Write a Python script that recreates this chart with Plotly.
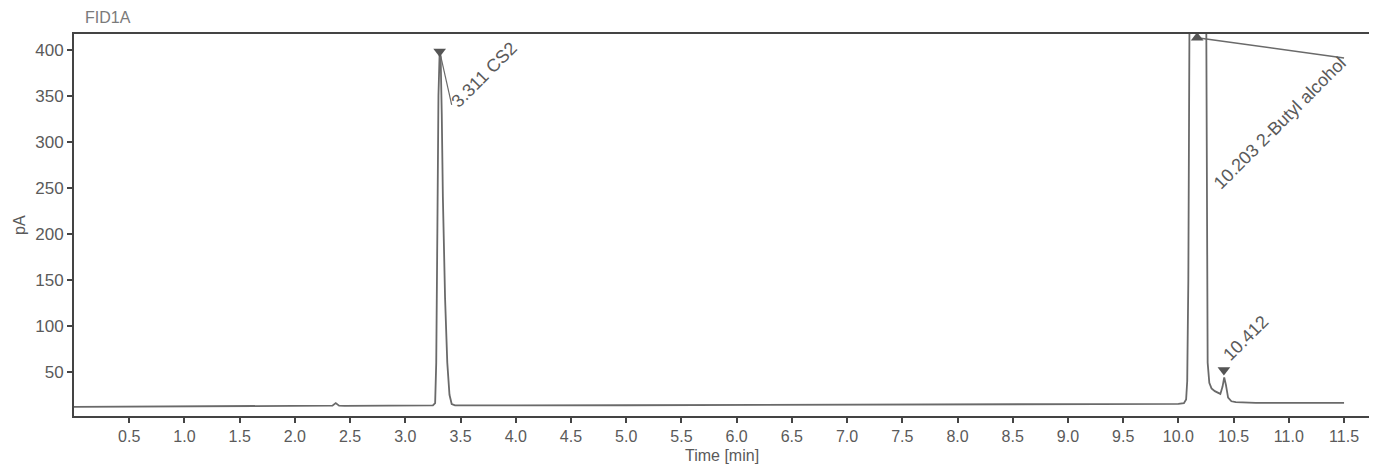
import plotly.graph_objects as go

# Chromatogram signal (time in min, signal in pA)
time_min = [0.0, 0.5, 1.0, 1.5, 2.0, 2.3, 2.34, 2.37, 2.40, 2.45, 2.8, 3.2, 3.25,
            3.27, 3.28, 3.29, 3.30, 3.311, 3.32, 3.33, 3.34, 3.36, 3.38, 3.40, 3.42, 3.45,
            3.6, 4.0, 5.0, 6.0, 7.0, 8.0, 9.0, 9.5, 9.9, 10.0, 10.05, 10.07, 10.08, 10.09,
            10.10, 10.12, 10.18, 10.24, 10.25, 10.26, 10.265, 10.28, 10.30, 10.33, 10.36,
            10.38, 10.40, 10.415, 10.43, 10.45, 10.48, 10.52, 10.7, 10.95, 10.98, 11.01,
            11.2, 11.23, 11.26, 11.5]
signal_pa = [12.0, 12.2, 12.4, 12.6, 12.8, 13.0, 13.2, 16.0, 13.2, 13.0, 13.1, 13.3, 13.5,
             16, 60, 200, 350, 398, 392, 330, 240, 130, 60, 25, 15, 13.5,
             13.4, 13.5, 13.7, 13.9, 14.1, 14.3, 14.6, 14.8, 15.0, 15.2, 16, 20, 40, 150,
             420, 800, 1000, 800, 420, 160, 60, 38, 32, 29, 27,
             26, 34, 44, 36, 22, 18, 17, 16.2, 16.2, 17.0, 16.2,
             16.2, 16.8, 16.2, 16.2]

# Peak markers
peak_x = [3.311, 10.17, 10.412]
peak_y = [398, 413, 52]
peak_symbols = ["triangle-down", "triangle-up", "triangle-down"]
peak_labels = ["3.311 CS2", "10.203 2-Butyl alcohol", "10.412"]
label_x = [3.71, 10.92, 10.61]
label_y = [373, 320, 87]

# Axis ticks
x_ticks = [0.5, 1.0, 1.5, 2.0, 2.5, 3.0, 3.5, 4.0, 4.5, 5.0, 5.5, 6.0, 6.5, 7.0, 7.5,
           8.0, 8.5, 9.0, 9.5, 10.0, 10.5, 11.0, 11.5]
y_ticks = [50, 100, 150, 200, 250, 300, 350, 400]

line_col = "#6a6a6a"
text_col = "#5a5a5a"
FONT = "Arial, Liberation Sans, Helvetica, sans-serif"

fig = go.Figure()
fig.add_trace(go.Scatter(x=time_min, y=signal_pa, mode="lines",
                         line=dict(color=line_col, width=1.8), showlegend=False))
# connector lines from markers to labels
fig.add_trace(go.Scatter(x=[peak_x[0], 3.42], y=[peak_y[0], 340], mode="lines",
                         line=dict(color=line_col, width=1.2), showlegend=False,
                         cliponaxis=False))
fig.add_trace(go.Scatter(x=[peak_x[1], 11.5], y=[peak_y[1], 391], mode="lines",
                         line=dict(color=line_col, width=1.5), showlegend=False,
                         cliponaxis=False))
fig.add_trace(go.Scatter(x=peak_x, y=peak_y, mode="markers",
                         marker=dict(symbol=peak_symbols, size=11, color="#555555"),
                         showlegend=False, cliponaxis=False))

for lx, ly, lt in zip(label_x, label_y, peak_labels):
    fig.add_annotation(x=lx, y=ly, text=lt, showarrow=False, textangle=-45,
                       xanchor="center", yanchor="middle",
                       font=dict(family=FONT, size=18, color=text_col))

fig.add_annotation(x=0, y=1.0, xref="paper", yref="paper", xshift=9, yshift=17,
                   text="FID1A", showarrow=False, xanchor="left", yanchor="middle",
                   font=dict(family=FONT, size=16, color="#7a7a7a"))
fig.add_annotation(x=0.5, y=0, xref="paper", yref="paper", yshift=-39,
                   text="Time [min]", showarrow=False, xanchor="center", yanchor="middle",
                   font=dict(family=FONT, size=16, color=text_col))
fig.add_annotation(x=0, y=0.5, xref="paper", yref="paper", xshift=-55, textangle=-90,
                   text="pA", showarrow=False, xanchor="center", yanchor="middle",
                   font=dict(family=FONT, size=16, color=text_col))

# page body has an 8px margin: shrink the figure so the plot lands in place
fig.update_layout(
    width=1369, height=462,
    margin=dict(l=66, r=7, t=26, b=54),
    paper_bgcolor="white", plot_bgcolor="white",
    font=dict(family=FONT, size=16, color=text_col),
)
fig.update_xaxes(range=[0, 11.735], tickvals=x_ticks,
                 ticktext=[f"{v:.1f}" for v in x_ticks],
                 ticks="outside", ticklen=5, tickcolor="#444", tickwidth=1.5,
                 showline=True, linecolor="#444", linewidth=2, mirror=True,
                 showgrid=False, zeroline=False, automargin=False,
                 tickfont=dict(size=16))
fig.update_yaxes(range=[2, 417], tickvals=y_ticks,
                 ticks="outside", ticklen=5, tickcolor="#444", tickwidth=1.5,
                 showline=True, linecolor="#444", linewidth=2, mirror=True,
                 showgrid=False, zeroline=False, automargin=False,
                 tickfont=dict(size=17))

fig.write_html("out.html")
